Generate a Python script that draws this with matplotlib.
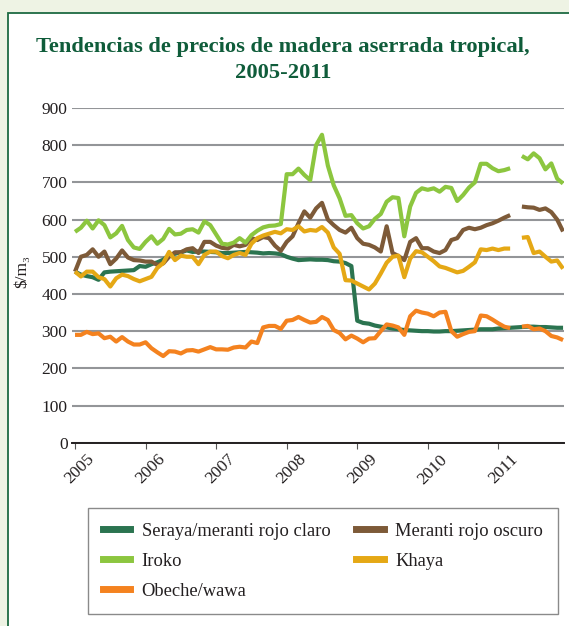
import numpy as np
import matplotlib
matplotlib.use("Agg")
import matplotlib.pyplot as plt
from matplotlib.patches import Rectangle
from matplotlib.lines import Line2D
import matplotlib.transforms as mtransforms

nan = np.nan

# monthly observations, Jan 2005 .. Dec 2011
months = 2005 + np.arange(84) / 12.0
year_ticks = [2005, 2006, 2007, 2008, 2009, 2010, 2011]
year_labels = ["2005", "2006", "2007", "2008", "2009", "2010", "2011"]
y_ticks = [0, 100, 200, 300, 400, 500, 600, 700, 800, 900]

seraya = [460, 452, 448, 445, 438, 458, 460, 461, 462, 463, 464, 475, 473, 480, 485, 492, 505, 508, 512, 517,
          513, 514, 514, 513, 512, 510, 510, 511, 512, 513, 512, 511, 509, 510, 509, 507, 500, 495, 491, 492, 493,
          492, 492, 491, 488, 487, 483, 475, 328, 322, 320, 315, 312, 310, 307, 305, 303,
          302, 301, 300, 300, 299, 299, 300, 300, 301, 302, 303, 304, 305, 305, 305, 307, 308, 309, 310, 311,
          312, 312, 311, 311, 310, 309, 309]

meranti = [460, 500, 505, 520, 500, 514, 480, 495, 517, 498, 491, 490, 487, 487, 478, 482, 500, 512, 512, 520,
           523, 510, 540, 540, 530, 524, 522, 532, 528, 532, 550, 545, 553, 550, 530, 516, 540, 555, 590, 622, 605,
           630, 645, 600, 585, 572, 565, 578, 550, 535, 532, 525, 514, 582, 510, 502, 491, 540, 550, 523, 523,
           514, 510, 518, 545, 550, 572, 578, 574, 578, 585, 590, 597, 605, 612, nan, 635, 633, 632, 626, 630,
           620, 600, 568]

iroko = [567, 578, 597, 576, 598, 585, 552, 563, 583, 545, 525, 521, 540, 555, 535, 548, 575, 560, 562, 572,
         574, 565, 595, 585, 560, 535, 533, 538, 550, 538, 558, 570, 579, 583, 584, 588, 722, 722, 737, 720, 706,
         800, 828, 745, 692, 657, 610, 612, 590, 576, 582, 602, 615, 648, 660, 658, 555, 635, 672, 684, 680,
         684, 675, 688, 685, 650, 666, 686, 700, 750, 750, 738, 730, 733, 738, nan, 771, 762, 778, 765, 735,
         751, 710, 697]

khaya = [460, 447, 460, 460, 445, 440, 420, 442, 452, 448, 440, 434, 440, 446, 470, 483, 513, 491, 503, 500,
         500, 480, 505, 514, 514, 502, 496, 505, 510, 505, 535, 550, 557, 562, 567, 563, 574, 572, 582, 568, 572,
         570, 580, 565, 525, 508, 437, 436, 428, 420, 412, 428, 455, 484, 500, 503, 445, 495, 515, 512, 500,
         488, 474, 470, 464, 458, 462, 473, 485, 520, 518, 522, 518, 522, 522, nan, 551, 553, 510, 514, 500,
         487, 490, 468]

obeche = [290, 290, 298, 292, 294, 281, 285, 272, 284, 272, 264, 264, 270, 254, 243, 233, 246, 245, 240, 248,
          249, 245, 251, 257, 251, 251, 250, 256, 258, 256, 272, 268, 310, 314, 314, 306, 328, 330, 338, 330,
          323, 325, 338, 330, 303, 295, 278, 288, 280, 270, 280,
          281, 300, 318, 315, 310, 290, 340, 355, 350, 347, 340, 350, 352, 300, 285, 292, 298, 300, 342, 340,
          331, 321, 312, 308, nan, 312, 314, 305, 307, 300, 287, 283, 276]

series = [
    ("Seraya/meranti rojo claro", seraya, "#2b7450"),
    ("Meranti rojo oscuro", meranti, "#7d5a38"),
    ("Iroko", iroko, "#8cc63f"),
    ("Khaya", khaya, "#e5a815"),
    ("Obeche/wawa", obeche, "#f4821f"),
]

plt.rcParams['font.family'] = ['Liberation Serif', 'DejaVu Serif']

W, H = 569, 626
fig = plt.figure(figsize=(W / 100, H / 100), dpi=100, facecolor="#eef3e4")

# white panel with dark-green border
panel = Rectangle((7.5 / W, -0.1), 1.2, (H - 12.5) / H + 0.1, transform=fig.transFigure,
                  facecolor="white", edgecolor="#1d6a42", lw=1.3, zorder=-5)
fig.add_artist(panel)

ax_l, ax_r, ax_t, ax_b = 71.7, 564.0, 108.0, 442.7
ax = fig.add_axes([ax_l / W, 1 - ax_b / H, (ax_r - ax_l) / W, (ax_b - ax_t) / H])
ax.set_facecolor("none")

handles = {}
for name, vals, col in series:
    ln, = ax.plot(months, vals, color=col, lw=3.0, solid_joinstyle="round",
                  solid_capstyle="butt", label=name, zorder=3)
    handles[name] = ln

ax.set_xlim(2004.953, 2011.93)
ax.set_ylim(0, 900)
ax.set_yticks(y_ticks)
ax.set_yticklabels([str(v) for v in y_ticks])
ax.yaxis.grid(True, color="#939598", lw=1.5)
ax.set_axisbelow(True)
for s in ["left", "right", "top"]:
    ax.spines[s].set_visible(False)
ax.spines["bottom"].set_color("#231f20")
ax.spines["bottom"].set_linewidth(1.4)
ax.spines["bottom"].set_zorder(4)

ax.tick_params(axis="y", length=0, pad=3, labelsize=12.5, labelcolor="#231f20")
ax.tick_params(axis="x", direction="out", length=4.3, width=0.8, color="#555555",
               pad=2, labelsize=12.5, labelcolor="#231f20")
ax.set_xticks(year_ticks)
ax.set_xticklabels(year_labels, rotation=45, ha="center")
offset = mtransforms.ScaledTranslation(5 / 100, 0, fig.dpi_scale_trans)
for lab in ax.get_xticklabels():
    lab.set_transform(lab.get_transform() + offset)

# y label
fig.text(22 / W, 1 - 271 / H, "$/m\u2083", rotation=90, ha="center", va="center",
         fontsize=12.5, color="#231f20")

# title
title_col = "#0f5c3a"
fig.text(283 / W, 1 - 47 / H, "Tendencias de precios de madera aserrada tropical,",
         ha="center", va="center", fontsize=16.2, fontweight="bold", color=title_col)
fig.text(283 / W, 1 - 73 / H, "2005-2011",
         ha="center", va="center", fontsize=16.2, fontweight="bold", color=title_col)

# legend (row-wise order in two columns)
order = ["Seraya/meranti rojo claro", "Iroko", "Obeche/wawa", "Meranti rojo oscuro", "Khaya"]
leg_handles = [Line2D([], [], color=handles[n].get_color(), lw=5) for n in order]
leg = fig.legend(leg_handles, order, loc="upper left",
                 bbox_to_anchor=(88 / W, 1 - 508 / H), bbox_transform=fig.transFigure,
                 ncol=2, fontsize=13.3, frameon=True, fancybox=False, framealpha=1,
                 edgecolor="#8a8a8a", handlelength=1.5, handletextpad=0.6,
                 columnspacing=1.4, labelspacing=0.7, borderpad=0.8, borderaxespad=0)
leg.get_frame().set_linewidth(1.0)
for t in leg.get_texts():
    t.set_color("#231f20")

fig.savefig("out.png", dpi=100, facecolor=fig.get_facecolor())
